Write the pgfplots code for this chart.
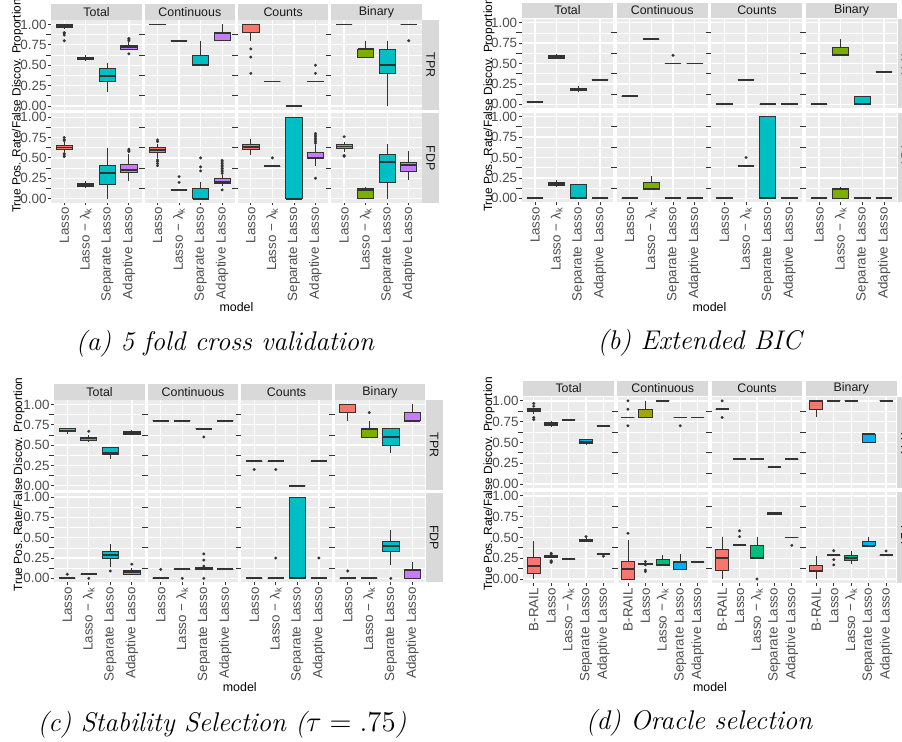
\documentclass[border=0pt]{standalone}
\usepackage{fontspec}
\setsansfont{Liberation Sans}
\usepackage{pgfplots}
\pgfplotsset{compat=1.18}
\usepgfplotslibrary{statistics}

\definecolor{ggbg}{HTML}{EBEBEB}
\definecolor{gg85}{HTML}{D9D9D9}
\definecolor{gg20}{HTML}{333333}
\definecolor{gg30}{HTML}{4D4D4D}
\definecolor{gg10}{HTML}{1A1A1A}
\definecolor{ca}{HTML}{F8766D}
\definecolor{cb}{HTML}{7CAE00}
\definecolor{cc}{HTML}{00BFC4}
\definecolor{cd}{HTML}{C77CFF}
\definecolor{da}{HTML}{F8766D}
\definecolor{db}{HTML}{A3A500}
\definecolor{dc}{HTML}{00BF7D}
\definecolor{dd}{HTML}{00B0F6}
\definecolor{de}{HTML}{E76BF3}

\newcommand{\tkf}{\fontsize{6.7}{7}\selectfont\sffamily}
\newcommand{\stf}{\fontsize{6.2}{7}\selectfont\sffamily}
\newcommand{\ttf}{\fontsize{5.95}{7}\selectfont\sffamily}
\newcommand{\mdf}{\fontsize{6.2}{7}\selectfont\sffamily}
\newcommand{\capf}{\fontsize{13.5}{15}\selectfont\itshape}

\newcommand{\setfacet}[2]{%
 \pgfmathsetmacro{\fx}{(\pL+(#1-1)*\pS)*0.5}%
 \pgfmathsetmacro{\fw}{\pW*0.5}%
 \pgfmathsetmacro{\fh}{\pH*0.5}%
 \ifnum#2=1\relax\pgfmathsetmacro{\fy}{-\pBa*0.5}\else\pgfmathsetmacro{\fy}{-\pBb*0.5}\fi}

\pgfplotsset{
 facet/.style={scale only axis, anchor=south west, at={(\fx pt,\fy pt)}, width=\fw pt, height=\fh pt,
  ymin=-0.05, ymax=1.05, xmin=0.4, xmax=4.6, xtick={1,2,3,4},
  ytick={0,0.25,0.5,0.75,1}, minor ytick={0.125,0.375,0.625,0.875},
  grid=both, major grid style={white, line width=0.65pt}, minor grid style={white, line width=0.3pt},
  axis background/.style={fill=ggbg}, axis line style={draw=none},
  tick pos=left, tick align=outside, major tick length=1.4pt, tick style={draw=gg20, line width=0.4pt},
  xminorticks=false, yminorticks=false,
  xticklabels={}, yticklabels={}, xmajorticks=false, ymajorticks=false,
  clip=false,
  boxplot/draw direction=y,
  boxplot/box extend=0.75, boxplot/whisker extend=0,
  boxplot/every median/.style={line width=0.9pt},
  yticklabel style={font=\tkf, text=gg30, inner sep=0.8pt},
  xticklabel style={font=\tkf, text=gg30, rotate=90, anchor=east, inner sep=0.8pt},
 },
 five/.style={xmin=0.4, xmax=5.6, xtick={1,2,3,4,5}},
 ly/.style={ymajorticks=true, yticklabels={0.00,0.25,0.50,0.75,1.00}},
 bx4/.style={xmajorticks=true, xticklabels={Lasso, Lasso − λ\textsubscript{k}, Separate Lasso, Adaptive Lasso}},
 bx5/.style={xmajorticks=true, xticklabels={B-RAIL, Lasso, Lasso − λ\textsubscript{k}, Separate Lasso, Adaptive Lasso}},
}

\newcommand{\bx}[8]{\addplot[draw=gg20, fill=#2, line width=0.4pt, mark=*, mark size=0.7pt, mark options={draw=gg20, fill=gg20, line width=0.1pt}, boxplot prepared={draw direction=y, draw position=#1, lower whisker=#3, lower quartile=#4, median=#5, upper quartile=#6, upper whisker=#7}] coordinates {#8};}
\newcommand{\lv}[3]{\bx{#1}{gg20}{#2}{#2}{#2}{#2}{#2}{#3}}
\newcommand{\sT}[1]{\node[anchor=south, fill=gg85, minimum width=\fw pt, minimum height=7.8pt, inner sep=0pt, font=\stf, text=gg10] at (rel axis cs:0.5,1) {#1};}
\newcommand{\sR}[1]{\node[anchor=south, rotate=-90, fill=gg85, minimum width=\fh pt, minimum height=8.5pt, inner sep=0pt, font=\stf, text=gg10] at (rel axis cs:1,0.5) {#1};}

\begin{document}
\begin{tikzpicture}
\useasboundingbox (0,0) rectangle (451pt,-371pt);

% ================= panel (a) =================
\def\pL{51.3}\def\pS{93.3}\def\pW{90.5}\def\pH{89.6}\def\pBa{110.0}\def\pBb{202.7}
\setfacet{1}{1}
\begin{axis}[facet, ly]
\sT{Total}
\bx{1}{ca}{0.94}{0.967}{0.985}{1.0}{1.0}{(1,0.90)(1,0.89)(1,0.87)(1,0.80)}
\bx{2}{cb}{0.555}{0.567}{0.585}{0.60}{0.62}{}
\bx{3}{cc}{0.17}{0.30}{0.365}{0.465}{0.53}{}
\bx{4}{cd}{0.70}{0.70}{0.72}{0.74}{0.78}{(4,0.83)(4,0.82)(4,0.80)(4,0.64)}
\end{axis}
\setfacet{2}{1}
\begin{axis}[facet]
\sT{Continuous}
\lv{1}{1.0}{}
\lv{2}{0.8}{}
\bx{3}{cc}{0.5}{0.5}{0.5}{0.625}{0.8}{}
\bx{4}{cd}{0.8}{0.8}{0.9}{0.9}{1.0}{}
\end{axis}
\setfacet{3}{1}
\begin{axis}[facet]
\sT{Counts}
\bx{1}{ca}{0.8}{0.9}{1.0}{1.0}{1.0}{(1,0.7)(1,0.6)(1,0.4)}
\lv{2}{0.3}{}
\lv{3}{0.0}{}
\lv{4}{0.3}{(4,0.4)(4,0.5)}
\end{axis}
\setfacet{4}{1}
\begin{axis}[facet]
\sT{Binary}\sR{TPR}
\lv{1}{1.0}{}
\bx{2}{cb}{0.6}{0.6}{0.7}{0.7}{0.8}{}
\bx{3}{cc}{0}{0.4}{0.5}{0.7}{0.8}{}
\lv{4}{1.0}{(4,0.8)}
\end{axis}
% FDP
\setfacet{1}{2}
\begin{axis}[facet, ly, bx4]
\bx{1}{ca}{0.57}{0.602}{0.627}{0.652}{0.69}{(1,0.75)(1,0.725)(1,0.71)(1,0.553)(1,0.537)(1,0.516)}
\bx{2}{cb}{0.135}{0.148}{0.168}{0.184}{0.22}{}
\bx{3}{cc}{0}{0.18}{0.31}{0.414}{0.62}{}
\bx{4}{cd}{0.22}{0.324}{0.35}{0.426}{0.55}{(4,0.607)(4,0.59)(4,0.578)}
\end{axis}
\setfacet{2}{2}
\begin{axis}[facet, bx4]
\bx{1}{ca}{0.50}{0.566}{0.594}{0.623}{0.67}{(1,0.72)(1,0.70)(1,0.475)(1,0.455)(1,0.43)(1,0.405)}
\lv{2}{0.11}{(2,0.27)(2,0.20)}
\bx{3}{cc}{0}{0}{0}{0.127}{0.2}{(3,0.5)(3,0.39)(3,0.34)}
\bx{4}{cd}{0.15}{0.19}{0.2}{0.254}{0.29}{(4,0.107)(4,0.31)(4,0.33)(4,0.35)(4,0.37)(4,0.39)(4,0.41)(4,0.43)(4,0.45)(4,0.47)}
\end{axis}
\setfacet{3}{2}
\begin{axis}[facet, bx4]
\bx{1}{ca}{0.53}{0.607}{0.635}{0.66}{0.73}{}
\lv{2}{0.4}{(2,0.5)}
\bx{3}{cc}{0}{0}{0}{1}{1}{}
\bx{4}{cd}{0.40}{0.50}{0.50}{0.57}{0.66}{(4,0.25)(4,0.68)(4,0.70)(4,0.72)(4,0.74)(4,0.76)(4,0.78)(4,0.80)}
\end{axis}
\setfacet{4}{2}
\begin{axis}[facet, bx4]
\sR{FDP}
\bx{1}{ca}{0.57}{0.62}{0.64}{0.66}{0.70}{(1,0.76)(1,0.53)(1,0.52)}
\bx{2}{cb}{0}{0}{0.11}{0.12}{0.14}{}
\bx{3}{cc}{0}{0.2}{0.45}{0.54}{0.67}{}
\bx{4}{cd}{0.23}{0.33}{0.41}{0.45}{0.58}{}
\end{axis}
\node[rotate=90, font=\ttf] at (17.5*0.5pt,-106*0.5pt) {True Pos. Rate/False Discov. Proportion};
\node[font=\mdf] at (236.5*0.5pt,-307*0.5pt) {model};
\node[font=\capf] at (225*0.5pt,-344*0.5pt) {(a) 5 fold cross validation};

% ================= panel (b) =================
\def\pL{522.0}\def\pS{94.7}\def\pW{91}\def\pH{89.8}\def\pBa{108.4}\def\pBb{202.4}
\setfacet{1}{1}
\begin{axis}[facet, ly]
\sT{Total}
\lv{1}{0.033}{}
\bx{2}{cb}{0.56}{0.567}{0.58}{0.60}{0.62}{}
\bx{3}{cc}{0.16}{0.167}{0.18}{0.20}{0.23}{}
\lv{4}{0.3}{}
\end{axis}
\setfacet{2}{1}
\begin{axis}[facet]
\sT{Continuous}
\lv{1}{0.1}{}
\lv{2}{0.8}{}
\lv{3}{0.5}{(3,0.6)}
\lv{4}{0.5}{}
\end{axis}
\setfacet{3}{1}
\begin{axis}[facet]
\sT{Counts}
\lv{1}{0}{}
\lv{2}{0.3}{}
\lv{3}{0}{}
\lv{4}{0}{}
\end{axis}
\setfacet{4}{1}
\begin{axis}[facet]
\sT{Binary}\sR{TPR}
\lv{1}{0}{}
\bx{2}{cb}{0.6}{0.6}{0.6}{0.7}{0.8}{}
\bx{3}{cc}{0}{0}{0}{0.1}{0.1}{}
\lv{4}{0.4}{}
\end{axis}
\setfacet{1}{2}
\begin{axis}[facet, ly, bx4]
\lv{1}{0}{}
\bx{2}{cb}{0.14}{0.155}{0.18}{0.19}{0.22}{}
\bx{3}{cc}{0}{0}{0}{0.167}{0.167}{}
\lv{4}{0}{}
\end{axis}
\setfacet{2}{2}
\begin{axis}[facet, bx4]
\lv{1}{0}{}
\bx{2}{cb}{0.11}{0.11}{0.11}{0.2}{0.27}{}
\lv{3}{0}{}
\lv{4}{0}{}
\end{axis}
\setfacet{3}{2}
\begin{axis}[facet, bx4]
\lv{1}{0}{}
\lv{2}{0.4}{(2,0.5)}
\bx{3}{cc}{0}{0}{0}{1}{1}{}
\lv{4}{0}{}
\end{axis}
\setfacet{4}{2}
\begin{axis}[facet, bx4]
\sR{FDP}
\lv{1}{0}{}
\bx{2}{cb}{0}{0}{0.11}{0.12}{0.14}{}
\lv{3}{0}{}
\lv{4}{0}{}
\end{axis}
\node[rotate=90, font=\ttf] at (489*0.5pt,-105*0.5pt) {True Pos. Rate/False Discov. Proportion};
\node[font=\mdf] at (709.5*0.5pt,-307*0.5pt) {model};
\node[font=\capf] at (699.5*0.5pt,-343*0.5pt) {(b) Extended BIC};

% ================= panel (c) =================
\def\pL{54.3}\def\pS{93.5}\def\pW{90.5}\def\pH{89.4}\def\pBa{489.8}\def\pBb{582.4}
\setfacet{1}{1}
\begin{axis}[facet, ly]
\sT{Total}
\bx{1}{ca}{0.64}{0.665}{0.68}{0.70}{0.70}{}
\bx{2}{cb}{0.54}{0.56}{0.58}{0.60}{0.62}{(2,0.67)}
\bx{3}{cc}{0.33}{0.39}{0.40}{0.47}{0.47}{}
\bx{4}{cd}{0.63}{0.63}{0.65}{0.665}{0.69}{}
\end{axis}
\setfacet{2}{1}
\begin{axis}[facet]
\sT{Continuous}
\lv{1}{0.8}{}
\lv{2}{0.8}{}
\lv{3}{0.7}{(3,0.6)}
\lv{4}{0.8}{}
\end{axis}
\setfacet{3}{1}
\begin{axis}[facet]
\sT{Counts}
\lv{1}{0.3}{(1,0.2)}
\lv{2}{0.3}{(2,0.2)}
\lv{3}{0}{}
\lv{4}{0.3}{}
\end{axis}
\setfacet{4}{1}
\begin{axis}[facet]
\sT{Binary}\sR{TPR}
\bx{1}{ca}{0.8}{0.9}{0.9}{1.0}{1.0}{}
\bx{2}{cb}{0.6}{0.6}{0.7}{0.7}{0.8}{(2,0.9)}
\bx{3}{cc}{0.4}{0.5}{0.6}{0.7}{0.7}{}
\bx{4}{cd}{0.8}{0.8}{0.8}{0.9}{1.0}{}
\end{axis}
\setfacet{1}{2}
\begin{axis}[facet, ly, bx4]
\lv{1}{0}{(1,0.05)}
\lv{2}{0.053}{(2,0)}
\bx{3}{cc}{0.14}{0.24}{0.29}{0.33}{0.42}{(3,0.09)}
\bx{4}{cd}{0.045}{0.05}{0.08}{0.10}{0.13}{(4,0.175)}
\end{axis}
\setfacet{2}{2}
\begin{axis}[facet, bx4]
\lv{1}{0}{(1,0.11)}
\lv{2}{0.11}{(2,0)}
\bx{3}{cc}{0.11}{0.11}{0.125}{0.13}{0.13}{(3,0.30)(3,0.225)(3,0.15)(3,0)}
\lv{4}{0.11}{}
\end{axis}
\setfacet{3}{2}
\begin{axis}[facet, bx4]
\lv{1}{0}{}
\lv{2}{0}{(2,0.25)}
\bx{3}{cc}{0}{0}{0}{1}{1}{}
\lv{4}{0}{(4,0.25)}
\end{axis}
\setfacet{4}{2}
\begin{axis}[facet, bx4]
\sR{FDP}
\lv{1}{0}{(1,0.09)}
\lv{2}{0}{}
\bx{3}{cc}{0.17}{0.33}{0.40}{0.45}{0.60}{(3,0)}
\bx{4}{cd}{0}{0}{0.10}{0.11}{0.2}{}
\end{axis}
\node[rotate=90, font=\ttf] at (19*0.5pt,-484.5*0.5pt) {True Pos. Rate/False Discov. Proportion};
\node[font=\mdf] at (239.8*0.5pt,-687*0.5pt) {model};
\node[font=\capf] at (222*0.5pt,-725*0.5pt) {(c) Stability Selection ($\tau = .75$)};

% ================= panel (d) =================
\def\pL{523.3}\def\pS{94.2}\def\pW{90.6}\def\pH{91.5}\def\pBa{488.2}\def\pBb{583.2}
\setfacet{1}{1}
\begin{axis}[facet, five, ly]
\sT{Total}
\bx{1}{da}{0.84}{0.868}{0.89}{0.908}{0.92}{(1,0.968)(1,0.936)(1,0.80)(1,0.776)}
\bx{2}{db}{0.69}{0.70}{0.725}{0.74}{0.76}{}
\lv{3}{0.772}{}
\bx{4}{dd}{0.47}{0.492}{0.51}{0.536}{0.536}{}
\lv{5}{0.70}{}
\end{axis}
\setfacet{2}{1}
\begin{axis}[facet, five]
\sT{Continuous}
\lv{1}{0.8}{(1,1.0)(1,0.9)(1,0.7)}
\bx{2}{db}{0.8}{0.8}{0.8}{0.9}{1.0}{}
\lv{3}{1.0}{}
\lv{4}{0.8}{(4,0.7)}
\lv{5}{0.8}{}
\end{axis}
\setfacet{3}{1}
\begin{axis}[facet, five]
\sT{Counts}
\lv{1}{0.9}{(1,1.0)(1,0.8)}
\lv{2}{0.3}{}
\lv{3}{0.3}{}
\lv{4}{0.2}{}
\lv{5}{0.3}{}
\end{axis}
\setfacet{4}{1}
\begin{axis}[facet, five]
\sT{Binary}\sR{TPR}
\bx{1}{da}{0.8}{0.9}{1.0}{1.0}{1.0}{}
\lv{2}{1.0}{}
\lv{3}{1.0}{}
\bx{4}{dd}{0.5}{0.5}{0.6}{0.6}{0.6}{}
\lv{5}{1.0}{}
\end{axis}
\setfacet{1}{2}
\begin{axis}[facet, five, ly, bx5]
\bx{1}{da}{0}{0.068}{0.16}{0.26}{0.458}{}
\bx{2}{db}{0.25}{0.265}{0.273}{0.28}{0.29}{(2,0.31)(2,0.30)(2,0.22)(2,0.21)(2,0.20)}
\lv{3}{0.237}{}
\bx{4}{dd}{0.44}{0.454}{0.46}{0.478}{0.49}{(4,0.51)}
\lv{5}{0.30}{(5,0.275)}
\end{axis}
\setfacet{2}{2}
\begin{axis}[facet, five, bx5]
\bx{1}{da}{0}{0}{0.116}{0.21}{0.47}{(1,0.55)}
\bx{2}{db}{0.16}{0.18}{0.185}{0.19}{0.2}{(2,0.21)(2,0.17)(2,0.108)(2,0.09)}
\bx{3}{dc}{0.165}{0.165}{0.17}{0.237}{0.285}{}
\bx{4}{dd}{0.116}{0.116}{0.2}{0.213}{0.30}{}
\lv{5}{0.2}{}
\end{axis}
\setfacet{3}{2}
\begin{axis}[facet, five, bx5]
\bx{1}{da}{0}{0.10}{0.253}{0.357}{0.50}{}
\lv{2}{0.405}{(2,0.58)(2,0.51)}
\bx{3}{dc}{0.245}{0.245}{0.25}{0.405}{0.50}{(3,0)}
\bx{4}{dd}{0.77}{0.783}{0.79}{0.807}{0.807}{}
\lv{5}{0.5}{(5,0.405)}
\end{axis}
\setfacet{4}{2}
\begin{axis}[facet, five, bx5]
\sR{FDP}
\bx{1}{da}{0}{0.092}{0.10}{0.169}{0.273}{}
\lv{2}{0.29}{(2,0.34)(2,0.233)(2,0.17)}
\bx{3}{dc}{0.177}{0.225}{0.25}{0.285}{0.333}{}
\bx{4}{dd}{0.40}{0.40}{0.40}{0.45}{0.51}{}
\lv{5}{0.29}{(5,0.337)}
\end{axis}
\node[rotate=90, font=\ttf] at (489*0.5pt,-484*0.5pt) {True Pos. Rate/False Discov. Proportion};
\node[font=\mdf] at (710*0.5pt,-687*0.5pt) {model};
\node[font=\capf] at (699*0.5pt,-723*0.5pt) {(d) Oracle selection};
\end{tikzpicture}
\end{document}
